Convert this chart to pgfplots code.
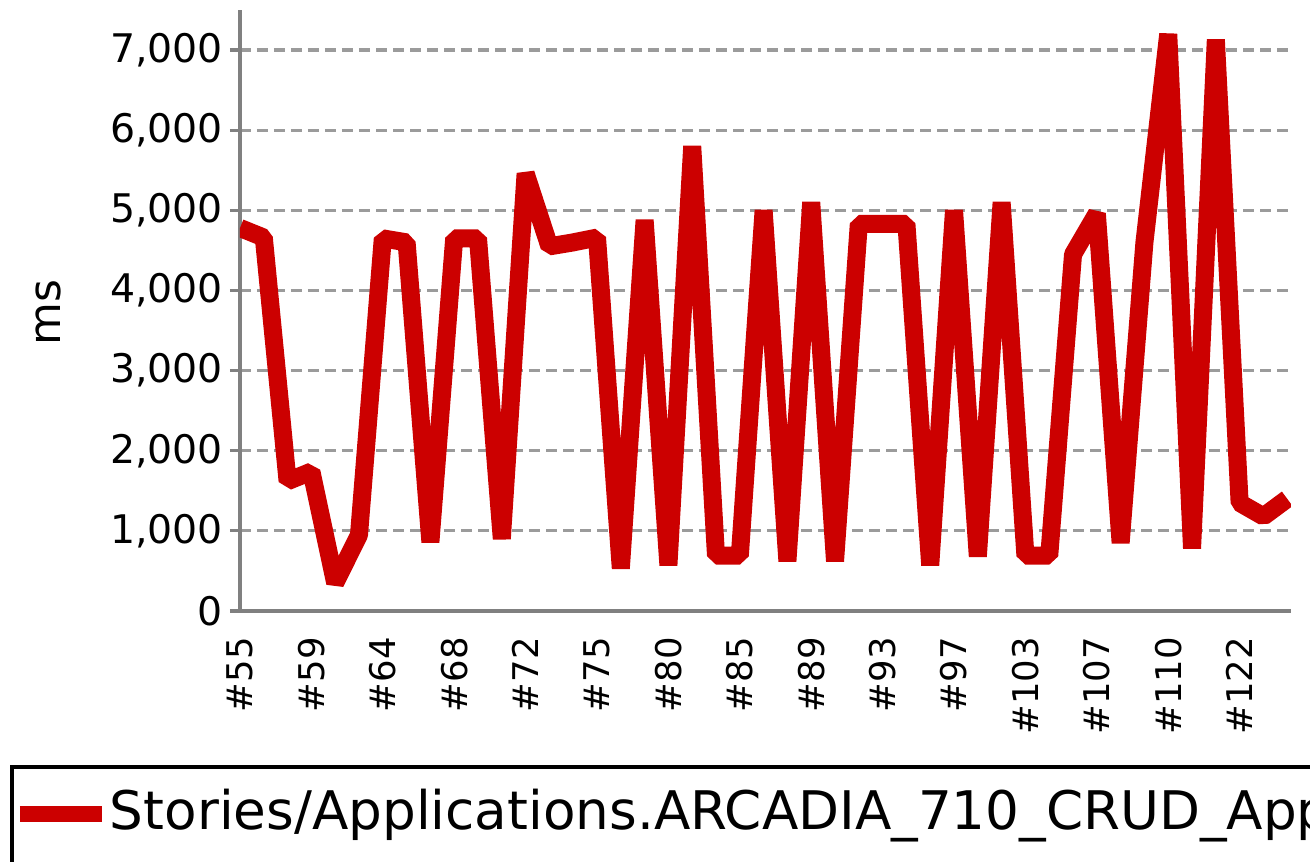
\documentclass[border=0pt]{standalone}
\usepackage{fontspec}
\setmainfont{DejaVu Sans}
\usepackage{pgfplots}
\pgfplotsset{compat=1.18}
\definecolor{jred}{RGB}{204,0,0}
\definecolor{axgray}{RGB}{128,128,128}
\definecolor{gridgray}{RGB}{155,155,155}
\pgfplotstableread{
idx val
0 4780
1 4660
2 1620
3 1740
4 350
5 950
6 4650
7 4600
8 860
9 4650
10 4650
11 900
12 5460
13 4550
14 4600
15 4660
16 530
17 4880
18 570
19 5800
20 690
21 690
22 5000
23 620
24 5100
25 620
26 4830
27 4830
28 4830
29 570
30 5000
31 680
32 5100
33 690
34 690
35 4450
36 4960
37 850
38 4600
39 7200
40 780
41 7130
42 1350
43 1180
44 1400
}\datatable
\begin{document}
\begin{tikzpicture}
\begin{axis}[
  at={(0,0)}, anchor=south west,
  scale only axis, width=525.4pt, height=300.5pt,
  xmin=0, xmax=44.15, ymin=0, ymax=7500,
  axis lines*=left,
  axis line style={axgray, line width=2pt},
  ytick={0,1000,...,7000},
  xtick={0,3,...,42},
  xticklabels={\#55,\#59,\#64,\#68,\#72,\#75,\#80,\#85,\#89,\#93,\#97,\#103,\#107,\#110,\#122},
  tick align=outside,
  major tick length=5pt,
  ytick style={axgray, line width=1.6pt},
  xtick style={draw=none},
  ymajorgrids,
  major grid style={gridgray, line width=1.6pt, dash pattern=on 5.5pt off 3pt},
  scaled y ticks=false,
  /pgf/number format/1000 sep={,},
  /pgf/number format/assume math mode=true,
  yticklabel style={font=\fontsize{19.7}{20}\selectfont},
  xticklabel style={rotate=90, anchor=east, font=\fontsize{17.7}{18}\selectfont, inner sep=0pt},
  xticklabel shift=8pt,
  ylabel={ms},
  every axis y label/.style={at={(axis description cs:0,0.497)}, xshift=-96pt, rotate=90, anchor=center, font=\fontsize{22}{22}\selectfont},
  legend style={at={(axis description cs:0,0)}, anchor=north west, xshift=-115pt, yshift=-77pt,
    draw=black, line width=2pt, inner xsep=0pt, inner ysep=11pt,
    font=\fontsize{26.6}{27}\selectfont, column sep=0pt, nodes={inner sep=0pt, text depth=16pt}},
  legend cell align=left,
  legend image code/.code={\draw[#1, line width=8pt, line cap=butt] (0pt,5.5pt) -- (41pt,5.5pt);},
]
\addplot[jred, line width=9pt, line join=bevel, no markers] table[x=idx, y=val] {\datatable};
\addlegendentry{Stories/Applications.ARCADIA\_710\_CRUD\_App}
\end{axis}
\pgfresetboundingbox
\useasboundingbox (-120pt,-125pt) rectangle (535pt,305.5pt);
\end{tikzpicture}
\end{document}
